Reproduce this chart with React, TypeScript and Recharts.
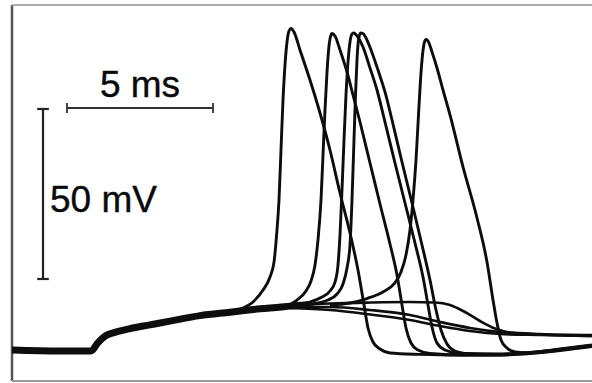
import React from "react";
import { LineChart, Line, XAxis, YAxis, ReferenceLine } from "recharts";

// time in ms, membrane potential in mV
const T_DOMAIN: [number, number] = [0, 19.863];
const V_DOMAIN: [number, number] = [-73.82, 36.76];

// shared pre-spike trajectory (all sweeps superimposed)
const commonSweep: [number, number][] = [
  [0, -64.71], [1.644, -65.0], [2.705, -65.0], [2.94, -62.6], [3.185, -60.6],
  [3.527, -59.5], [4.041, -58.4], [4.726, -57.3], [5.411, -56.2], [6.438, -54.6],
  [7.466, -53.6], [8.493, -52.6], [9.521, -51.8], [10.205, -51.3],
];

const spike1: [number, number][] = [
  [7.808, -52.65], [8.253, -50.59], [8.596, -47.06], [8.836, -43.24], [8.973, -38.82],
  [9.075, -29.41], [9.144, -20.59], [9.212, -5.88], [9.281, 8.82], [9.349, 19.12],
  [9.418, 25.88], [9.486, 29.12], [9.555, 29.85], [9.658, 28.82], [9.863, 23.53],
  [10.205, 14.71], [10.548, 5.0], [10.89, -5.88], [11.233, -18.53], [11.575, -30.29],
  [11.849, -41.18], [12.055, -51.47], [12.192, -58.24], [12.363, -62.35], [12.603, -64.41],
  [12.945, -65.59], [13.973, -66.0], [15.342, -66.2], [16.712, -66.03], [17.74, -65.44],
  [18.767, -64.56], [19.863, -63.38],
];

const spike2: [number, number][] = [
  [9.349, -52.06], [9.76, -50.0], [10.068, -47.35], [10.24, -44.41], [10.377, -39.71],
  [10.479, -32.35], [10.582, -20.59], [10.651, -7.35], [10.719, 5.88], [10.788, 17.06],
  [10.856, 24.71], [10.925, 27.94], [10.959, 28.38], [11.062, 27.65], [11.233, 23.53],
  [11.473, 17.06], [11.678, 10.29], [11.918, 2.35], [12.26, -9.71], [12.603, -21.76],
  [12.945, -33.53], [13.185, -42.65], [13.356, -51.47], [13.493, -58.24], [13.664, -62.65],
  [13.904, -64.71], [14.315, -65.74], [15.342, -66.18], [16.712, -66.18], [17.74, -65.74],
  [18.767, -64.85], [19.863, -63.68],
];

const spike3: [number, number][] = [
  [9.795, -51.47], [10.205, -50.59], [10.616, -49.12], [10.89, -47.35], [11.062, -44.71],
  [11.164, -39.71], [11.233, -30.88], [11.301, -17.65], [11.37, -2.94], [11.438, 10.29],
  [11.507, 20.0], [11.575, 25.88], [11.644, 28.24], [11.712, 28.53], [11.815, 27.65],
  [12.021, 24.41], [12.26, 18.24], [12.5, 11.76], [12.74, 3.53], [13.116, -9.71],
  [13.459, -21.47], [13.801, -33.24], [14.075, -43.24], [14.247, -51.47], [14.384, -57.94],
  [14.555, -62.65], [14.829, -64.71], [15.342, -65.74], [16.712, -65.88], [17.74, -65.44],
  [18.767, -64.41], [19.863, -63.24],
];

const spike4: [number, number][] = [
  [9.863, -51.76], [10.377, -51.03], [10.822, -50.0], [11.13, -48.24], [11.336, -45.29],
  [11.473, -40.59], [11.575, -33.82], [11.644, -20.59], [11.712, -2.94], [11.764, 10.29],
  [11.815, 20.59], [11.866, 26.47], [11.935, 28.53], [12.021, 28.38], [12.123, 27.06],
  [12.295, 23.53], [12.534, 17.65], [12.774, 11.18], [13.014, 2.94], [13.356, -9.41],
  [13.699, -21.47], [14.041, -33.82], [14.315, -44.12], [14.521, -52.94], [14.692, -58.82],
  [14.897, -62.94], [15.171, -65.0], [15.685, -65.88], [16.712, -66.18], [17.74, -65.59],
  [18.767, -64.56], [19.863, -63.38],
];

const spike5: [number, number][] = [
  [10.89, -51.47], [11.575, -50.88], [12.158, -49.56], [12.705, -47.65], [13.082, -45.29],
  [13.322, -41.76], [13.493, -36.76], [13.63, -29.41], [13.733, -20.59], [13.836, -8.82],
  [13.921, 4.41], [13.99, 14.71], [14.058, 22.06], [14.127, 25.88], [14.178, 26.62],
  [14.247, 26.18], [14.384, 22.94], [14.555, 18.24], [14.76, 11.76], [15.0, 4.41],
  [15.445, -10.88], [15.925, -25.88], [16.267, -38.82], [16.473, -50.0], [16.61, -56.76],
  [16.747, -61.76], [16.952, -64.12], [17.226, -65.29], [17.74, -65.59], [18.767, -64.71],
  [19.863, -63.53],
];

// subthreshold sweeps
const sub1: [number, number][] = [
  [9.521, -51.62], [10.89, -51.03], [12.26, -50.74], [13.63, -50.59], [14.486, -50.74],
  [15.0, -51.47], [15.514, -53.53], [16.027, -56.18], [16.541, -58.38], [17.055, -59.56],
  [18.082, -60.15], [19.863, -60.59],
];
const sub2: [number, number][] = [
  [9.521, -52.06], [10.89, -52.06], [12.26, -52.94], [13.63, -54.41], [14.658, -56.47],
  [15.685, -58.24], [16.712, -59.41], [18.082, -60.0], [19.863, -60.29],
];
const sub3: [number, number][] = [
  [9.521, -52.35], [10.89, -52.94], [12.26, -54.26], [13.63, -55.88], [14.658, -57.65],
  [15.685, -59.12], [16.712, -60.0], [18.082, -60.29], [19.863, -60.59],
];

// scale bars
const TIME_BAR = { t0: 1.884, lengthMs: 5, v: 6.47, label: "5 ms" };
const VOLT_BAR = { t: 1.062, v0: -43.82, lengthMv: 50, label: "50 mV" };

const toPts = (arr: [number, number][]) => arr.map(([t, v]) => ({ t, v }));

const spikes = [spike1, spike2, spike3, spike4, spike5];
const subs = [sub1, sub2, sub3];

const FONT = "'Liberation Sans', Arial, Helvetica, sans-serif";

const TimeLabel = (props: any) => {
  const vb = props.viewBox || {};
  const x = (vb.x ?? 0) + (vb.width ?? 0) / 2;
  const y = (vb.y ?? 0) - 11;
  return (
    <text x={x} y={y} textAnchor="middle" fontFamily={FONT} fontSize={37} fill="#0a0a0a"
      stroke="#0a0a0a" strokeWidth={0.4}>
      {TIME_BAR.label}
    </text>
  );
};

const VoltLabel = (props: any) => {
  const vb = props.viewBox || {};
  const x = (vb.x ?? 0) + 7;
  const y = (vb.y ?? 0) + (vb.height ?? 0) / 2 + 18;
  return (
    <text x={x} y={y} textAnchor="start" fontFamily={FONT} fontSize={37} fill="#0a0a0a"
      stroke="#0a0a0a" strokeWidth={0.4}>
      {VOLT_BAR.label}
    </text>
  );
};

export default function App() {
  const tEnd = TIME_BAR.t0 + TIME_BAR.lengthMs;
  const vTop = VOLT_BAR.v0 + VOLT_BAR.lengthMv;
  const tickHalfV = 1.5;
  const capHalfT = 0.2;
  const stroke = "#0d0d0d";
  return (
    <div style={{ position: "absolute", left: 0, top: 0, width: 592, height: 383, background: "#fff" }}>
      <LineChart width={592} height={383} margin={{ top: 5, right: 0, bottom: 2, left: 12 }}>
        <XAxis type="number" dataKey="t" domain={T_DOMAIN} hide allowDataOverflow />
        <YAxis type="number" dataKey="v" domain={V_DOMAIN} hide allowDataOverflow />

        {/* frame */}
        <ReferenceLine x={T_DOMAIN[0]} stroke="#555" strokeWidth={2.5} ifOverflow="visible" />
        <ReferenceLine y={V_DOMAIN[1]} stroke="#aaa" strokeWidth={2} ifOverflow="visible" />
        <ReferenceLine y={V_DOMAIN[0]} stroke="#999" strokeWidth={2} ifOverflow="visible" />

        {/* time scale bar */}
        <ReferenceLine
          segment={[{ x: TIME_BAR.t0, y: TIME_BAR.v }, { x: tEnd, y: TIME_BAR.v }]}
          stroke="#333" strokeWidth={1.8} ifOverflow="visible"
          label={<TimeLabel />}
        />
        <ReferenceLine
          segment={[{ x: TIME_BAR.t0, y: TIME_BAR.v - tickHalfV }, { x: TIME_BAR.t0, y: TIME_BAR.v + tickHalfV }]}
          stroke="#333" strokeWidth={1.8} ifOverflow="visible"
        />
        <ReferenceLine
          segment={[{ x: tEnd, y: TIME_BAR.v - tickHalfV }, { x: tEnd, y: TIME_BAR.v + tickHalfV }]}
          stroke="#333" strokeWidth={1.8} ifOverflow="visible"
        />

        {/* voltage scale bar */}
        <ReferenceLine
          segment={[{ x: VOLT_BAR.t, y: VOLT_BAR.v0 }, { x: VOLT_BAR.t, y: vTop }]}
          stroke="#222" strokeWidth={2.2} ifOverflow="visible"
          label={<VoltLabel />}
        />
        <ReferenceLine
          segment={[{ x: VOLT_BAR.t - capHalfT, y: VOLT_BAR.v0 }, { x: VOLT_BAR.t + capHalfT, y: VOLT_BAR.v0 }]}
          stroke="#222" strokeWidth={2.2} ifOverflow="visible"
        />
        <ReferenceLine
          segment={[{ x: VOLT_BAR.t - capHalfT, y: vTop }, { x: VOLT_BAR.t + capHalfT, y: vTop }]}
          stroke="#222" strokeWidth={2.2} ifOverflow="visible"
        />

        <Line
          data={toPts(commonSweep)} dataKey="v" type="monotone" stroke={stroke}
          strokeWidth={7} dot={false} isAnimationActive={false} strokeLinejoin="round"
        />
        {subs.map((s, i) => (
          <Line
            key={"s" + i} data={toPts(s)} dataKey="v" type="monotone" stroke={stroke}
            strokeWidth={2.7} dot={false} isAnimationActive={false}
          />
        ))}
        {spikes.map((s, i) => (
          <Line
            key={"p" + i} data={toPts(s)} dataKey="v" type="monotone" stroke={stroke}
            strokeWidth={2.9} dot={false} isAnimationActive={false} strokeLinejoin="round"
          />
        ))}
      </LineChart>
    </div>
  );
}
